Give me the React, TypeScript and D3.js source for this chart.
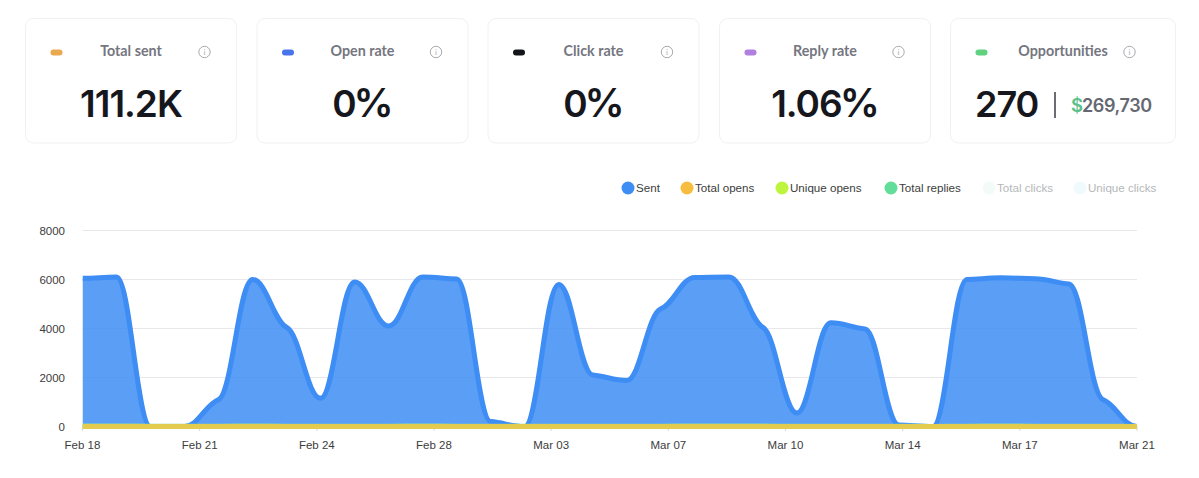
import React from "react";
import * as d3 from "d3";

const W = 1199;
const H = 478;

const sent = [6050, 6100, 0, 0, 1100, 6000, 4050, 1150, 5900, 4100, 6100, 6020, 200, 0, 5800, 2100, 1880, 4800, 6080, 6100, 4050, 550, 4230, 3980, 60, 0, 6000, 6070, 6030, 5820, 1100, 0];
const totalReplies = [45, 42, 35, 30, 35, 38, 35, 32, 35, 35, 38, 35, 30, 28, 35, 32, 30, 35, 38, 42, 38, 30, 32, 30, 28, 25, 35, 38, 35, 35, 30, 25];
const totalOpens = sent.map(() => 0);
const uniqueOpens = sent.map(() => 0);

const tickLabels = ["Feb 18", "Feb 21", "Feb 24", "Feb 28", "Mar 03", "Mar 07", "Mar 10", "Mar 14", "Mar 17", "Mar 21"];
const yTicks = [0, 2000, 4000, 6000, 8000];

const legendNames = ["Sent", "Total opens", "Unique opens", "Total replies", "Total clicks", "Unique clicks"];
const legendColors = ["#3d8df5", "#f7bd3f", "#bcf53c", "#62dd9a", "#f3fbf8", "#eefafc"];
const legendDots = [628, 687, 782, 891, 989, 1080];

const cardTitles = ["Total sent", "Open rate", "Click rate", "Reply rate", "Opportunities"];
const cardNumbers = ["111.2K", "0", "0", "1.06", "270"];
const cardUnits = ["", "%", "%", "%", ""];
const cardColors = ["#e8a94f", "#4a74ec", "#14151a", "#b07fe0", "#5fd17f"];
const cardLefts = [25.5, 257, 488, 719.5, 950.5];
const cardRights = [236.5, 468, 699, 930.5, 1175.5];

const x = d3.scaleLinear().domain([0, sent.length - 1]).range([82.5, 1137]);
const xTick = d3.scalePoint<string>().domain(tickLabels).range([82.5, 1137]);
const y = d3.scaleLinear().domain([0, 8000]).range([426.5, 230.5]);

const TITLE_FONT = "Lato, 'Noto Sans', sans-serif";
const VALUE_FONT = "Inter, 'Noto Sans', sans-serif";
const AXIS_FONT = "'Liberation Sans', Arial, sans-serif";

// A d3 curve factory: cubic segments whose knot tangents are damped, giving the soft shoulders of the reference.
function softCurve(context: any) {
  const DAMP = 0.3;
  const REACH = 0.4;
  let pts: [number, number][] = [];
  let inArea = false;
  let seg = 0;
  return {
    areaStart() { inArea = true; seg = 0; },
    areaEnd() { inArea = false; context.closePath(); },
    lineStart() { pts = []; },
    point(px: number, py: number) { pts.push([+px, +py]); },
    lineEnd() {
      const n = pts.length;
      if (!n) return;
      if (inArea && seg > 0) context.lineTo(pts[0][0], pts[0][1]);
      else context.moveTo(pts[0][0], pts[0][1]);
      seg++;
      const slopes: number[] = [];
      for (let i = 0; i < n - 1; i++) slopes.push((pts[i + 1][1] - pts[i][1]) / (pts[i + 1][0] - pts[i][0]));
      const tan = pts.map((_, i) => {
        if (i === 0 || i === n - 1) return 0;
        const a = slopes[i - 1];
        const b = slopes[i];
        if (a * b <= 0) return 0;
        return (DAMP * 2 * a * b) / (a + b);
      });
      for (let i = 0; i < n - 1; i++) {
        const dx = pts[i + 1][0] - pts[i][0];
        context.bezierCurveTo(
          pts[i][0] + dx * REACH,
          pts[i][1] + tan[i] * dx * REACH,
          pts[i + 1][0] - dx * REACH,
          pts[i + 1][1] - tan[i + 1] * dx * REACH,
          pts[i + 1][0],
          pts[i + 1][1]
        );
      }
    },
  };
}

export default function App() {
  const area = d3
    .area<number>()
    .x((_, i) => x(i))
    .y0(y(0))
    .y1((d) => y(d))
    .curve(softCurve as any);
  const line = d3
    .line<number>()
    .x((_, i) => x(i))
    .y((d) => y(d))
    .curve(softCurve as any);

  return (
    <svg width={W} height={H} style={{ position: "absolute", left: 0, top: 0, display: "block", background: "#fff" }}>
      <defs>
        <clipPath id="plot">
          <rect x={82.5} y={225} width={1054.5} height={204} />
        </clipPath>
      </defs>

      {cardTitles.map((t, i) => {
        const l = cardLefts[i];
        const r = cardRights[i];
        const last = i === 4;
        const cx = (l + r) / 2;
        return (
          <g key={t}>
            <rect x={l} y={18.5} width={r - l} height={124.5} rx={8} fill="#fff" stroke="#f0f1f5" strokeWidth={1} />
            <rect x={l + 25} y={49.5} width={12} height={6} rx={3} fill={cardColors[i]} />
            <text x={cx} y={55.5} textAnchor="middle" fontFamily={TITLE_FONT} fontWeight={700} fontSize={14.3} fill="#75767f">
              {t}
            </text>
            <circle cx={l + 179} cy={52} r={5.7} fill="none" stroke="#a9aaae" strokeWidth={1} />
            <text x={l + 179} y={55} textAnchor="middle" fontFamily={TITLE_FONT} fontSize={8} fill="#a9aaae">i</text>
            {last ? (
              <g>
                <text x={975} y={117} fontFamily={VALUE_FONT} fontWeight={600} fontSize={36} letterSpacing={-1} fill="#16171d">{cardNumbers[i]}</text>
                <rect x={1054} y={92} width={2} height={26} fill="#6b6d75" />
                <text x={1071} y={112} fontFamily={VALUE_FONT} fontWeight={600} fontSize={18.5} fill="#5cc08a">$</text>
                <text x={1082} y={112} fontFamily={VALUE_FONT} fontWeight={600} fontSize={18} letterSpacing={-0.4} fill="#666871">269,730</text>
              </g>
            ) : (
              <text x={cx} y={117} textAnchor="middle" fontFamily={VALUE_FONT} fontWeight={600} fontSize={37} letterSpacing={-1} fill="#16171d">
                {cardNumbers[i]}
                {cardUnits[i] ? <tspan fontSize={40} dx={-2}>{cardUnits[i]}</tspan> : null}
              </text>
            )}
          </g>
        );
      })}

      {legendNames.map((n, i) => (
        <g key={n}>
          <circle cx={legendDots[i]} cy={188} r={6.5} fill={legendColors[i]} />
          <text x={legendDots[i] + 8} y={192} fontFamily={AXIS_FONT} fontSize={11.6} fill={i < 4 ? "#3c3c3c" : "#b5b8ba"}>
            {n}
          </text>
        </g>
      ))}

      {yTicks.map((v) => (
        <g key={v}>
          <line x1={82.5} x2={1137} y1={y(v)} y2={y(v)} stroke="#e8e8ec" strokeWidth={1} />
          <text x={65} y={y(v) + 4} textAnchor="end" fontFamily={AXIS_FONT} fontSize={11.5} fill="#3c3c3c">{v}</text>
        </g>
      ))}

      {tickLabels.map((label) => (
        <g key={label}>
          <line x1={xTick(label)} x2={xTick(label)} y1={426} y2={431} stroke="#d8d8dc" strokeWidth={1} />
          <text x={xTick(label)} y={449} textAnchor="middle" fontFamily={AXIS_FONT} fontSize={11.5} fill="#3c3c3c">{label}</text>
        </g>
      ))}

      <g clipPath="url(#plot)">
        <path d={area(sent) ?? ""} fill="#3d8df5" fillOpacity={0.85} />
        <path d={line(sent) ?? ""} fill="none" stroke="#3d8df5" strokeWidth={5} />
        <path d={line(totalReplies) ?? ""} fill="none" stroke="#8fdc9a" strokeWidth={4} />
        <path d={line(uniqueOpens) ?? ""} fill="none" stroke="#bcf53c" strokeWidth={4} />
        <path d={line(totalOpens) ?? ""} fill="none" stroke="#e3cb50" strokeWidth={5} />
      </g>
    </svg>
  );
}
